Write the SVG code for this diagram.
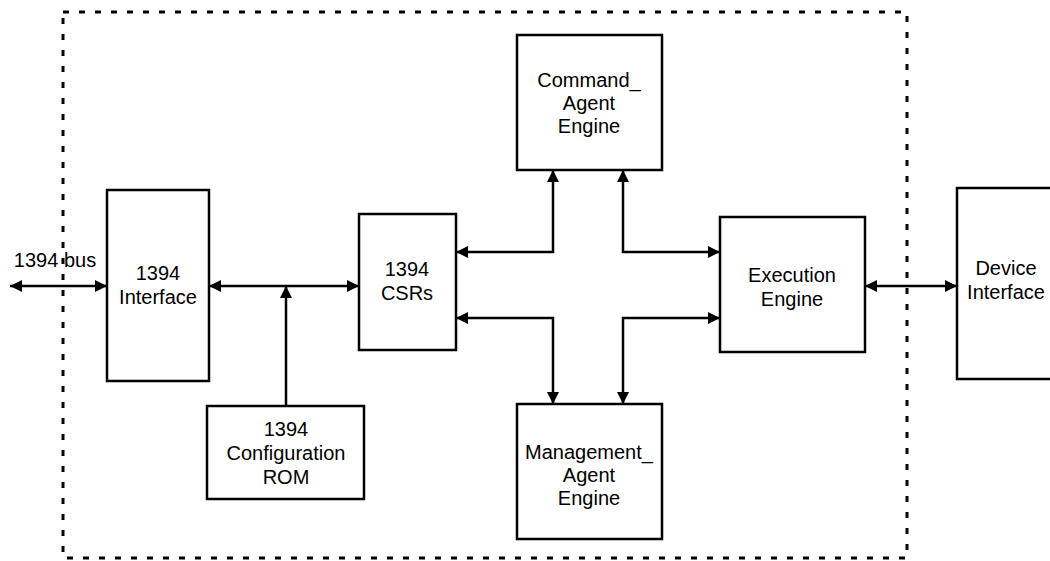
<svg xmlns="http://www.w3.org/2000/svg" width="1050" height="561" viewBox="0 0 1050 561">
<style>
.box{fill:#fff;stroke:#000;stroke-width:2.5}
.lbl{font-family:"Liberation Sans",Arial,sans-serif;font-size:20px;fill:#000;text-anchor:middle}
.conn{fill:none;stroke:#000;stroke-width:2.5}
</style>
<defs>
<marker id="ah" markerUnits="userSpaceOnUse" viewBox="0 0 12 12" markerWidth="12" markerHeight="12" refX="12" refY="6" orient="auto-start-reverse">
<path d="M0,0 L12,6 L0,12 z" fill="#000"/>
</marker>
</defs>
<rect x="0" y="0" width="1050" height="561" fill="#fff"/>
<rect id="boundary" x="63" y="12" width="844" height="546" fill="none" stroke="#000" stroke-width="3" stroke-dasharray="6 10"/>
<g id="interface1394">
<rect class="box" x="107" y="190" width="102" height="191"/>
<text class="lbl" x="158" y="280">1394</text>
<text class="lbl" x="158" y="304">Interface</text>
</g>
<g id="csrs">
<rect class="box" x="359" y="214" width="97" height="136"/>
<text class="lbl" x="407" y="276">1394</text>
<text class="lbl" x="407" y="300">CSRs</text>
</g>
<g id="command">
<rect class="box" x="517" y="35" width="145" height="135"/>
<text class="lbl" x="589" y="87">Command_</text>
<text class="lbl" x="589" y="110">Agent</text>
<text class="lbl" x="589" y="133">Engine</text>
</g>
<g id="execution">
<rect class="box" x="720" y="217" width="145" height="135"/>
<text class="lbl" x="792" y="282">Execution</text>
<text class="lbl" x="792" y="306">Engine</text>
</g>
<g id="device">
<rect class="box" x="957" y="188" width="110" height="191"/>
<text class="lbl" x="1006" y="275">Device</text>
<text class="lbl" x="1006" y="299">Interface</text>
</g>
<g id="rom">
<rect class="box" x="207" y="406" width="157" height="93"/>
<text class="lbl" x="286" y="436">1394</text>
<text class="lbl" x="286" y="460">Configuration</text>
<text class="lbl" x="286" y="484">ROM</text>
</g>
<g id="management">
<rect class="box" x="517" y="404" width="145" height="135"/>
<text class="lbl" x="589" y="459">Management_</text>
<text class="lbl" x="589" y="482">Agent</text>
<text class="lbl" x="589" y="505">Engine</text>
</g>
<g id="connectors">
<path class="conn" d="M10,286 H107" marker-start="url(#ah)" marker-end="url(#ah)"/>
<text class="lbl" x="55" y="267">1394 bus</text>
<path class="conn" d="M209,286 H359" marker-start="url(#ah)" marker-end="url(#ah)"/>
<path class="conn" d="M286,406 V286" marker-end="url(#ah)"/>
<path class="conn" d="M456,252 H553 V170" marker-start="url(#ah)" marker-end="url(#ah)"/>
<path class="conn" d="M623,170 V252 H720" marker-start="url(#ah)" marker-end="url(#ah)"/>
<path class="conn" d="M456,318 H553 V404" marker-start="url(#ah)" marker-end="url(#ah)"/>
<path class="conn" d="M720,318 H623 V404" marker-start="url(#ah)" marker-end="url(#ah)"/>
<path class="conn" d="M865,286 H957" marker-start="url(#ah)" marker-end="url(#ah)"/>
</g>
</svg>
